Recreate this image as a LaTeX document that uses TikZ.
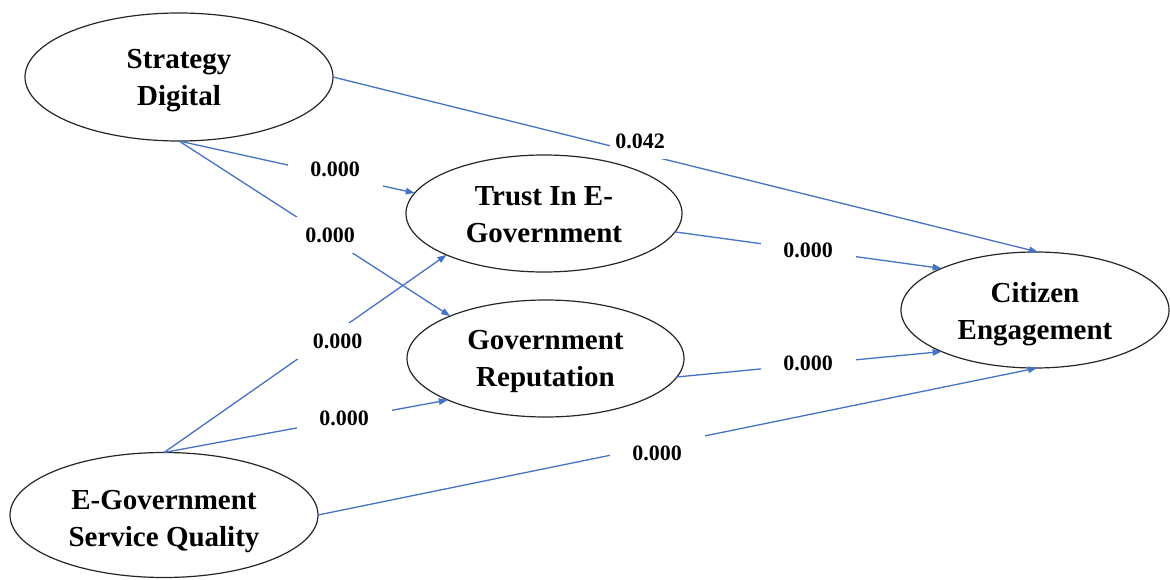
\documentclass[tikz,border=0pt]{standalone}
\usepackage{fontspec}
\setmainfont{Liberation Serif}
\usetikzlibrary{arrows.meta,shapes.geometric}
\definecolor{linkblue}{RGB}{68,114,196}
\newcommand{\twolines}[3]{\raisebox{0pt}[\dimexpr\height+#1pt*2\relax][\depth]{\begin{tabular}{@{}c@{}}#2\\#3\end{tabular}}}
\begin{document}
\begin{tikzpicture}[x=1pt,y=-1pt,
  construct/.style={ellipse, draw=black!85, line width=1.2pt, inner sep=0pt, outer sep=0pt,
    align=center, font=\fontsize{29}{37}\selectfont\bfseries},
  link/.style={draw=linkblue, line width=1.3pt, -{Triangle[length=9pt,width=6.5pt]}},
  coef/.style={fill=white, inner sep=0pt, minimum width=95pt, minimum height=36pt,
    font=\fontsize{22}{26}\selectfont\bfseries}]
\useasboundingbox (0,0) rectangle (1170,580);

\node[construct, minimum width=308pt, minimum height=128pt] (sd) at (179,77) {\twolines{2.5}{Strategy}{Digital}};
\node[construct, minimum width=276pt, minimum height=117pt] (trust) at (544,213.5) {\twolines{3}{Trust In E-}{Government}};
\node[construct, minimum width=277pt, minimum height=117pt] (rep) at (545.5,358.5) {\twolines{2}{Government}{Reputation}};
\node[construct, minimum width=268pt, minimum height=116pt] (ce) at (1035,310) {\twolines{3.5}{Citizen}{Engagement}};
\node[construct, minimum width=308pt, minimum height=125pt] (esq) at (164,515) {\twolines{6}{E-Government}{Service Quality}};

\draw[link] (sd.south) -- (trust.171.5);
\draw[link] (sd.south) -- (rep.156);
\draw[link] (sd.east) -- (ce.87);
\draw[link] (trust.352.9) -- (ce.156);
\draw[link] (rep.352.9) -- (ce.204.3);
\draw[link] (esq.north) -- (trust.203.7);
\draw[link] (esq.north) -- (rep.203);
\draw[link] (esq.east) -- (ce.272);

\node[coef] (l1) at (335,169) {0.000};
\node[coef] (l2) at (330,235) {0.000};
\node[coef, minimum width=60pt] (l3) at (640,141) {0.042};
\node[coef] (l4) at (808,250) {0.000};
\node[coef] (l5) at (808,363) {0.000};
\node[coef] (l6) at (337.5,341) {0.000};
\node[coef] (l7) at (344,418) {0.000};
\node[coef] (l8) at (657,453) {0.000};
\end{tikzpicture}
\end{document}
